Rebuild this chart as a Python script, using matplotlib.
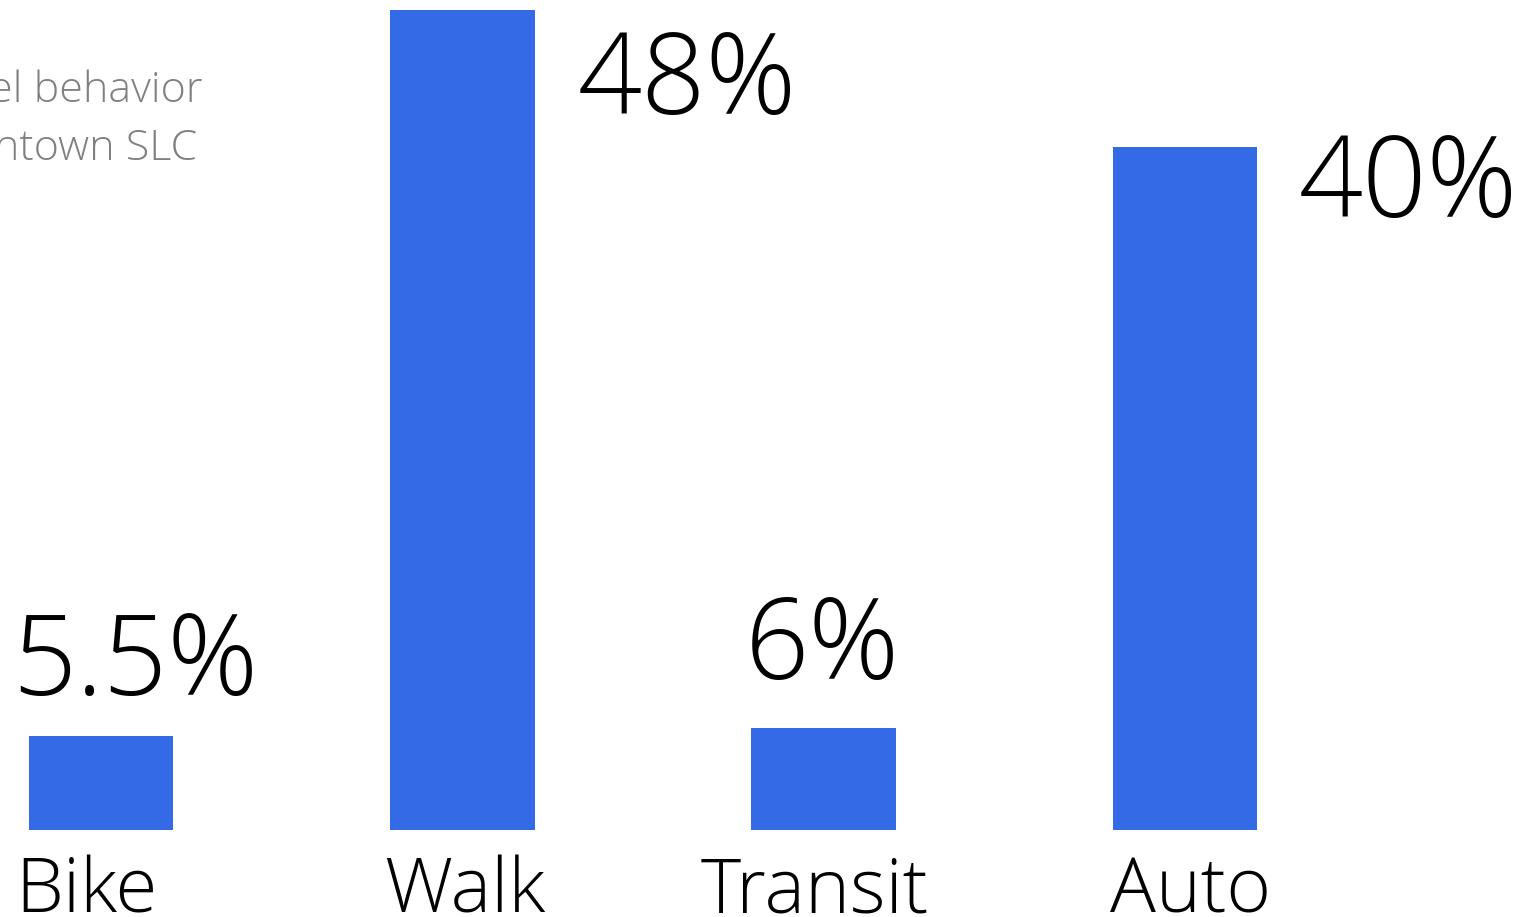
import matplotlib
matplotlib.use("Agg")
import matplotlib.pyplot as plt

# --- data ---
modes = ["Bike", "Walk", "Transit", "Auto"]
shares = [5.5, 48, 6, 40]
share_labels = ["5.5%", "48%", "6%", "40%"]
title_lines = ["Travel behavior", "Downtown SLC"]

BAR_COLOR = "#346ae5"
FONT = ["Open Sans", "DejaVu Sans"]
W, H = 1533, 917
PX_PER_UNIT = 361.3      # horizontal distance between bars
BASE_Y = 830             # baseline in pixels from the top
PX_PER_PCT = 17.08

fig = plt.figure(figsize=(W / 100, H / 100), dpi=100)
ax = fig.add_axes([0, (H - BASE_Y) / H, 1, BASE_Y / H])
ax.set_xlim(-101 / PX_PER_UNIT, (W - 101) / PX_PER_UNIT)
ax.set_ylim(0, BASE_Y / PX_PER_PCT)
ax.axis("off")

x = list(range(len(modes)))
ax.bar(x, shares, width=0.4, color=BAR_COLOR)

# value labels: (anchor x rel. to bar centre, offset px x, offset px y, ha)
label_pos = [
    (0, 34, 41, "center"),
    (0.2, 43, -104, "left"),
    (0, -1, 49, "center"),
    (0.2, 42, -70, "left"),
]
for i, (v, lab) in enumerate(zip(shares, share_labels)):
    dx, ox, oy, ha = label_pos[i]
    ax.annotate(lab, xy=(i + dx, v), xytext=(ox, oy), textcoords="offset pixels",
                ha=ha, va="baseline", fontsize=81, family=FONT, fontweight="light",
                color="black", annotation_clip=False)

# category labels under the bars (small horizontal nudges as in the original)
cat_dx = [-15, 2, -9, 6]
for i, m in enumerate(modes):
    ax.annotate(m, xy=(i, 0), xytext=(cat_dx[i], -25), textcoords="offset pixels",
                ha="center", va="top", fontsize=55, family=FONT,
                fontweight="light", color="black", annotation_clip=False)

# title, cut by the left edge
fig.text(203 / W, 1 - 102 / H, title_lines[0], ha="right", va="baseline",
         fontsize=31, family=FONT, fontweight="light", color="#808080")
fig.text(197 / W, 1 - 160 / H, title_lines[1], ha="right", va="baseline",
         fontsize=31, family=FONT, fontweight="light", color="#808080")

fig.savefig("out.png", dpi=100)
